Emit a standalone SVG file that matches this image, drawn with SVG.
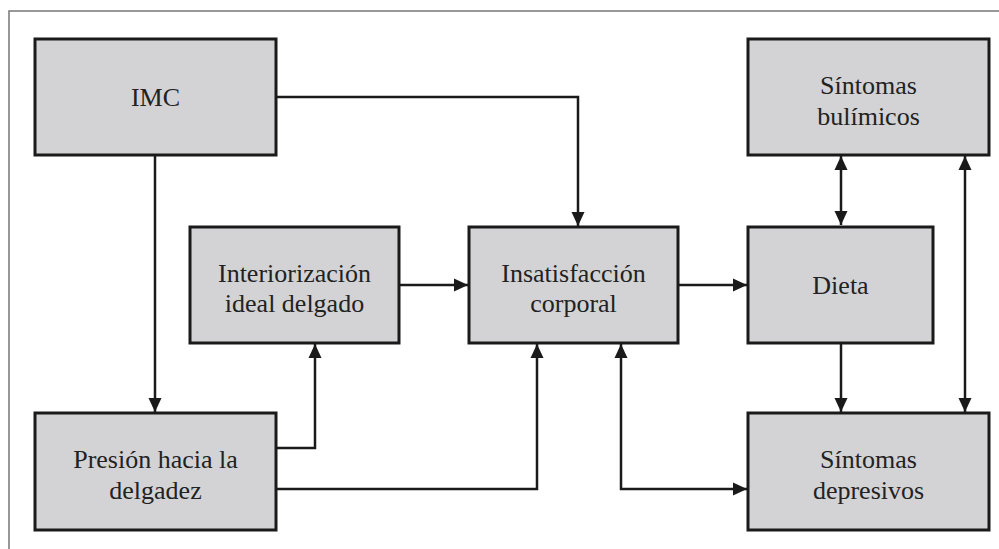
<svg xmlns="http://www.w3.org/2000/svg" width="999" height="549" viewBox="0 0 999 549">
<style>
.box{fill:#d3d3d5;stroke:#1a1a1a;stroke-width:3}
.t{font-family:'Liberation Serif','Times New Roman','DejaVu Serif',serif;font-size:26px;fill:#222;text-anchor:middle}
.c{fill:none;stroke:#1a1a1a;stroke-width:2.5}
</style>
<defs>
<marker id="ah" markerUnits="userSpaceOnUse" markerWidth="16" markerHeight="16" viewBox="0 0 16 16" refX="14" refY="8" orient="auto-start-reverse">
<path d="M0,1.5 L14,8 L0,14.5 Z" fill="#1a1a1a"/>
</marker>
</defs>
<rect x="9" y="11" width="1000" height="560" fill="#fff" stroke="#777" stroke-width="1.5"/>
<g id="connectors">
<path class="c" d="M155,155 V412" marker-end="url(#ah)"/>
<path class="c" d="M276,97 H578 V226" marker-end="url(#ah)"/>
<path class="c" d="M399,285 H468" marker-end="url(#ah)"/>
<path class="c" d="M276,448 H315 V344" marker-end="url(#ah)"/>
<path class="c" d="M276,489 H537 V344" marker-end="url(#ah)"/>
<path class="c" d="M621,344 V489 H747" marker-start="url(#ah)" marker-end="url(#ah)"/>
<path class="c" d="M678,285 H747" marker-end="url(#ah)"/>
<path class="c" d="M841,156 V225" marker-start="url(#ah)" marker-end="url(#ah)"/>
<path class="c" d="M841,343 V412" marker-end="url(#ah)"/>
<path class="c" d="M965,156 V412" marker-start="url(#ah)" marker-end="url(#ah)"/>
</g>
<g id="imc">
<rect class="box" x="35" y="39" width="241" height="116"/>
<text class="t" x="155.5" y="106">IMC</text>
</g>
<g id="bulimicos">
<rect class="box" x="748" y="39" width="241" height="116"/>
<text class="t" x="868.5" y="94">Síntomas</text>
<text class="t" x="868.5" y="125">bulímicos</text>
</g>
<g id="interiorizacion">
<rect class="box" x="190" y="227" width="209" height="116"/>
<text class="t" x="294.5" y="282">Interiorización</text>
<text class="t" x="294.5" y="312">ideal delgado</text>
</g>
<g id="insatisfaccion">
<rect class="box" x="469" y="227" width="209" height="116"/>
<text class="t" x="573.5" y="282">Insatisfacción</text>
<text class="t" x="573.5" y="312">corporal</text>
</g>
<g id="dieta">
<rect class="box" x="748" y="227" width="185" height="116"/>
<text class="t" x="840.5" y="294">Dieta</text>
</g>
<g id="presion">
<rect class="box" x="35" y="413" width="241" height="117"/>
<text class="t" x="155.5" y="468">Presión hacia la</text>
<text class="t" x="155.5" y="499">delgadez</text>
</g>
<g id="depresivos">
<rect class="box" x="748" y="413" width="241" height="117"/>
<text class="t" x="868.5" y="468">Síntomas</text>
<text class="t" x="868.5" y="499">depresivos</text>
</g>
</svg>
